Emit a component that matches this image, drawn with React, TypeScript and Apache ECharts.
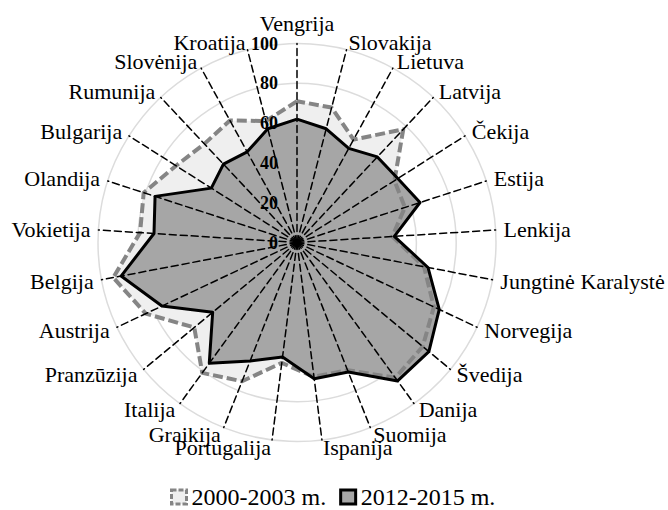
import React, { useEffect, useRef } from "react";
import * as echarts from "echarts";

const countries = [
  "Vengrija", "Slovakija", "Lietuva", "Latvija", "Čekija", "Estija", "Lenkija",
  "Jungtinė Karalystė", "Norvegija", "Švedija", "Danija", "Suomija", "Ispanija",
  "Portugalija", "Graikija", "Italija", "Pranzūzija", "Austrija", "Belgija",
  "Vokietija", "Olandija", "Bulgarija", "Rumunija", "Slovėnija", "Kroatija",
];
const values2000 = [71, 70, 59, 78, 58, 57, 48, 65, 76, 82, 84, 69, 68, 61, 75, 81, 67, 84, 94, 79, 81, 72, 68, 70, 63];
const values2012 = [62, 59, 54, 59, 60, 65, 49, 67, 79, 86, 86, 70, 69, 58, 64, 75, 55, 75, 90, 72, 75, 51, 54, 52, 59];
const seriesNames = ["2000-2003 m.", "2012-2015 m."];
const axisMax = 100;

const FONT = "'Liberation Serif', 'Times New Roman', serif";

// radar draws indicators counter-clockwise; reorder so they run clockwise
const clockwise = <T,>(a: T[]): T[] => [a[0], ...a.slice(1).reverse()];

export default function App() {
  const ref = useRef<HTMLDivElement>(null);
  useEffect(() => {
    if (!ref.current) return;
    const chart = echarts.init(ref.current, null, { renderer: "svg" });
    const names = clockwise(countries);
    const indBase = names.map((name) => ({ name, max: axisMax, min: 0 }));
    const indTop = names.map((name, i) =>
      i === 0 ? { name, max: axisMax, min: 0, axisLabel: { show: true } } : { name, max: axisMax, min: 0 }
    );
    const d2000 = clockwise(values2000);
    const d2012 = clockwise(values2012);
    const grayFill = "#efefef";
    const grayLine = "#858585";
    const darkFill = "#a6a6a6";
    const common = {
      center: [297, 242.5],
      radius: 199,
      shape: "circle",
      splitNumber: 5,
    };
    chart.setOption({
      animation: false,
      textStyle: { fontFamily: FONT, fontWeight: "normal", fontStyle: "normal" },
      legend: {
        data: [
          {
            name: seriesNames[0],
            icon: "rect",
            itemStyle: { color: grayFill, borderColor: grayLine, borderWidth: 3, borderType: [5, 2] },
          },
          {
            name: seriesNames[1],
            icon: "rect",
            itemStyle: { color: darkFill, borderColor: "#000", borderWidth: 3 },
          },
        ],
        left: 170,
        top: 485,
        padding: 0,
        itemWidth: 15,
        itemHeight: 14,
        itemGap: 13,
        selectedMode: false,
        textStyle: { fontSize: 24, fontFamily: FONT, fontWeight: "normal", fontStyle: "normal", color: "#000" },
      },
      radar: [
        {
          ...common,
          z: 0,
          axisName: { show: false },
          axisLine: { show: false },
          splitLine: { show: true, lineStyle: { color: "#dcdcdc", width: 1.5 } },
          splitArea: { show: false },
          axisTick: { show: false },
          axisLabel: { show: false },
          indicator: indBase,
        },
        {
          ...common,
          z: 10,
          nameGap: 8,
          axisName: { color: "#000", fontSize: 22, fontFamily: FONT, fontWeight: "normal", fontStyle: "normal" },
          axisLine: { show: true, lineStyle: { color: "#000", width: 1.5, type: [7, 4] } },
          splitLine: { show: false },
          splitArea: { show: false },
          axisTick: { show: false },
          axisLabel: {
            show: false,
            color: "#000",
            fontSize: 18,
            fontWeight: "bold",
            fontFamily: FONT,
            margin: 19,
          },
          indicator: indTop,
        },
      ],
      series: [
        {
          type: "radar",
          radarIndex: 0,
          z: 1,
          symbol: "none",
          data: [
            {
              name: seriesNames[0],
              value: d2000,
              lineStyle: { width: 0 },
              areaStyle: { color: grayFill, opacity: 1 },
              itemStyle: { color: grayFill },
            },
          ],
        },
        {
          type: "radar",
          radarIndex: 0,
          z: 2,
          symbol: "none",
          data: [
            {
              name: seriesNames[1],
              value: d2012,
              lineStyle: { width: 0 },
              areaStyle: { color: darkFill, opacity: 1 },
              itemStyle: { color: darkFill },
            },
          ],
        },
        {
          type: "radar",
          radarIndex: 0,
          z: 3,
          symbol: "none",
          data: [
            {
              name: "g-line",
              value: d2000,
              lineStyle: { width: 4, color: grayLine, type: [10, 4] },
              itemStyle: { color: grayLine },
            },
          ],
        },
        {
          type: "radar",
          radarIndex: 0,
          z: 4,
          symbol: "none",
          data: [
            {
              name: "b-line",
              value: d2012,
              lineStyle: { width: 3, color: "#000" },
              itemStyle: { color: "#000" },
            },
          ],
        },
      ],
    });
    return () => chart.dispose();
  }, []);
  return <div ref={ref} style={{ position: "absolute", left: 0, top: 0, width: 668, height: 510 }} />;
}
